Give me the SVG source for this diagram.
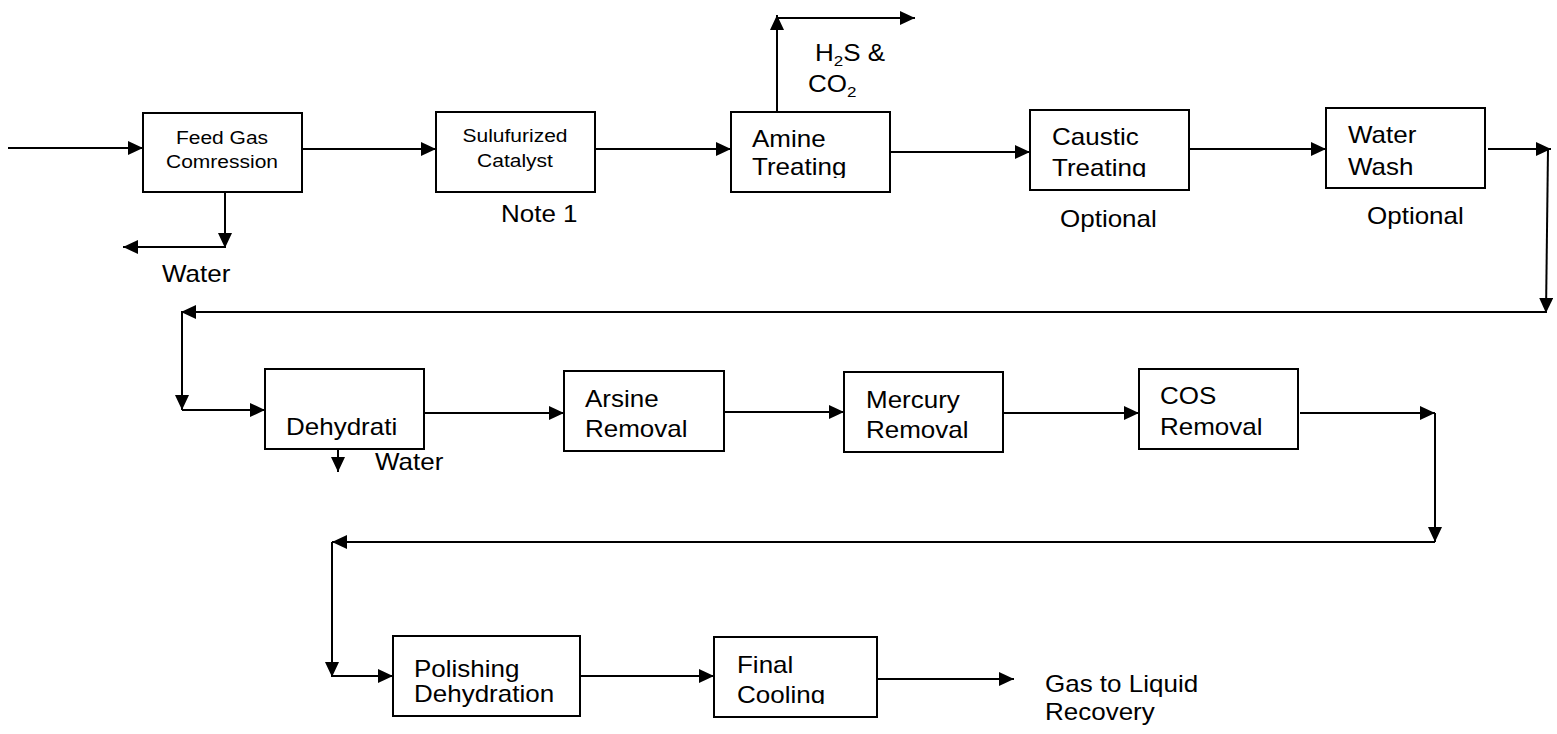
<svg xmlns="http://www.w3.org/2000/svg" width="1557" height="734" viewBox="0 0 1557 734">
<style>
.box{fill:#fff;stroke:#000;stroke-width:2}
.t{font-family:"Liberation Sans",Arial,sans-serif;fill:#000}
.b{font-size:26px}
.s{font-size:21px}
.c{fill:none;stroke:#000;stroke-width:2}
.a{marker-end:url(#ah)}
</style>
<defs>
<marker id="ah" markerUnits="userSpaceOnUse" markerWidth="16" markerHeight="14" refX="15" refY="7" orient="auto">
<path d="M0,0 L15,7 L0,14 z" fill="#000"/>
</marker>
<clipPath id="clipAmine"><rect x="731" y="112" width="159" height="66"/></clipPath>
<clipPath id="clipCaustic"><rect x="1030" y="110" width="159" height="67"/></clipPath>
<clipPath id="clipFinal"><rect x="714" y="637" width="163" height="67"/></clipPath>
</defs>

<g id="connectors">
<path class="c a" d="M8,148 H143"/>
<path class="c a" d="M302,149 H436"/>
<path class="c a" d="M225,192 V248"/>
<path class="c a" d="M225,247 H123"/>
<path class="c a" d="M595,149 H731"/>
<path class="c a" d="M777,112 V15"/>
<path class="c a" d="M777,18 H915"/>
<path class="c a" d="M890,152 H1030"/>
<path class="c a" d="M1189,149 H1326"/>
<path class="c a" d="M1488,149 H1551"/>
<path class="c a" d="M1548,149 L1546,313"/>
<path class="c a" d="M1546,312 H181"/>
<path class="c a" d="M182,311 V410"/>
<path class="c a" d="M182,410 H265"/>
<path class="c a" d="M424,413 H564"/>
<path class="c a" d="M338,450 V472"/>
<path class="c a" d="M724,412 H844"/>
<path class="c a" d="M1003,413 H1139"/>
<path class="c a" d="M1300,413 H1435"/>
<path class="c a" d="M1435,413 V542"/>
<path class="c a" d="M1435,542 H332"/>
<path class="c a" d="M332,542 V677"/>
<path class="c a" d="M332,676 H393"/>
<path class="c a" d="M580,676 H714"/>
<path class="c a" d="M877,679 H1014"/>
</g>

<g id="feed-gas-compression">
<rect class="box" x="143" y="113" width="159" height="79"/>
<text class="t s" text-anchor="middle" transform="matrix(1 0 0 0.9 222 144)">Feed Gas</text>
<text class="t s" text-anchor="middle" transform="matrix(1 0 0 0.9 222 168)">Comression</text>
</g>

<g id="sulfurized-catalyst">
<rect class="box" x="436" y="112" width="159" height="80"/>
<text class="t s" text-anchor="middle" transform="matrix(1 0 0 0.9 515 142)">Sulufurized</text>
<text class="t s" text-anchor="middle" transform="matrix(1 0 0 0.9 515 167)">Catalyst</text>
</g>

<g id="amine-treating">
<rect class="box" x="731" y="112" width="159" height="80"/>
<g clip-path="url(#clipAmine)">
<text class="t b" transform="matrix(1 0 0 0.9 752 147)">Amine</text>
<text class="t b" transform="matrix(1 0 0 0.9 752 175)">Treating</text>
</g>
</g>

<g id="caustic-treating">
<rect class="box" x="1030" y="110" width="159" height="80"/>
<g clip-path="url(#clipCaustic)">
<text class="t b" transform="matrix(1 0 0 0.9 1052 145)">Caustic</text>
<text class="t b" transform="matrix(1 0 0 0.9 1052 176)">Treating</text>
</g>
</g>

<g id="water-wash">
<rect class="box" x="1326" y="108" width="159" height="80"/>
<text class="t b" transform="matrix(1 0 0 0.9 1348 143)">Water</text>
<text class="t b" transform="matrix(1 0 0 0.9 1348 175)">Wash</text>
</g>

<g id="dehydration">
<rect class="box" x="265" y="369" width="159" height="80"/>
<text class="t b" transform="matrix(1 0 0 0.9 286 435)">Dehydrati</text>
</g>

<g id="arsine-removal">
<rect class="box" x="564" y="371" width="160" height="80"/>
<text class="t b" transform="matrix(1 0 0 0.9 585 407)">Arsine</text>
<text class="t b" transform="matrix(1 0 0 0.9 585 437)">Removal</text>
</g>

<g id="mercury-removal">
<rect class="box" x="844" y="372" width="159" height="80"/>
<text class="t b" transform="matrix(1 0 0 0.9 866 408)">Mercury</text>
<text class="t b" transform="matrix(1 0 0 0.9 866 438)">Removal</text>
</g>

<g id="cos-removal">
<rect class="box" x="1139" y="369" width="159" height="80"/>
<text class="t b" transform="matrix(1 0 0 0.9 1160 404)">COS</text>
<text class="t b" transform="matrix(1 0 0 0.9 1160 435)">Removal</text>
</g>

<g id="polishing-dehydration">
<rect class="box" x="393" y="636" width="187" height="80"/>
<text class="t b" transform="matrix(1 0 0 0.9 414 677)">Polishing</text>
<text class="t b" transform="matrix(1 0 0 0.9 414 702)">Dehydration</text>
</g>

<g id="final-cooling">
<rect class="box" x="714" y="637" width="163" height="80"/>
<g clip-path="url(#clipFinal)">
<text class="t b" transform="matrix(1 0 0 0.9 737 673)">Final</text>
<text class="t b" transform="matrix(1 0 0 0.9 737 703)">Cooling</text>
</g>
</g>

<g id="labels">
<text class="t b" transform="matrix(1 0 0 0.9 162 282)">Water</text>
<text class="t b" transform="matrix(1 0 0 0.9 501 222)">Note 1</text>
<text class="t b" transform="matrix(1 0 0 0.9 1060 227)">Optional</text>
<text class="t b" transform="matrix(1 0 0 0.9 1367 224)">Optional</text>
<text class="t b" transform="matrix(1 0 0 0.9 375 470)">Water</text>
<text class="t b" transform="matrix(1 0 0 0.9 815 61)">H<tspan font-size="17" dy="5">2</tspan><tspan dy="-5">S &amp;</tspan></text>
<text class="t b" transform="matrix(1 0 0 0.9 808 92)">CO<tspan font-size="17" dy="5">2</tspan></text>
<text class="t b" transform="matrix(1 0 0 0.9 1045 692)">Gas to Liquid</text>
<text class="t b" transform="matrix(1 0 0 0.9 1045 720)">Recovery</text>
</g>
</svg>
